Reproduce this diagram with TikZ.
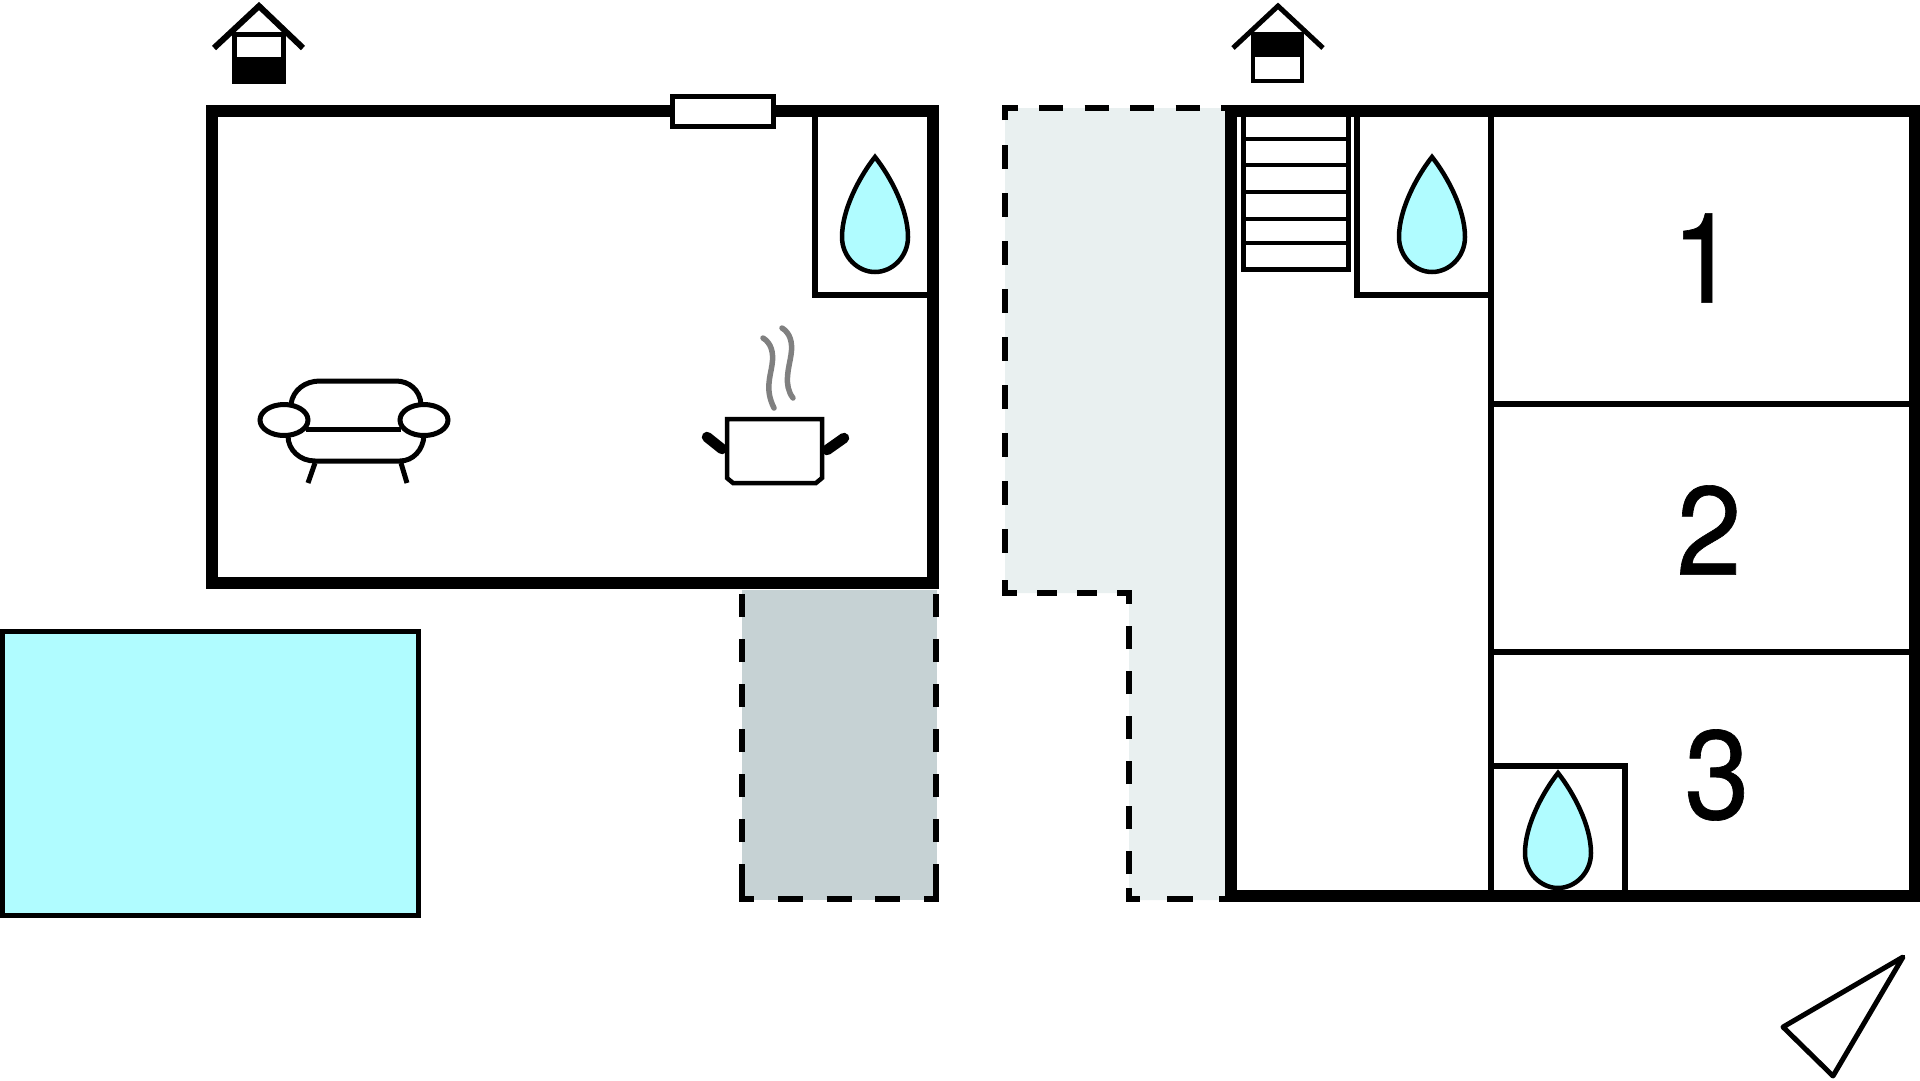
\documentclass[tikz,border=0pt]{standalone}
\usepackage{fontspec}
\newfontfamily\numfont[FakeBold=0.5,FakeStretch=0.93]{TeX Gyre Heros}
\definecolor{poolblue}{HTML}{B0FCFF}
\definecolor{terrace}{HTML}{C6D2D4}
\definecolor{balcony}{HTML}{E9F0F0}
\tikzset{
  wall/.style={draw=black, line width=12pt, line join=miter},
  partition/.style={draw=black, line width=6pt},
  thin wall/.style={draw=black, line width=5pt},
  dashline/.style={draw=black, line width=6pt, dash pattern=on 23pt off 22pt},
  dashcorner/.style={draw=black, line width=6pt, line join=miter},
  roomnum/.style={font=\numfont\fontsize{126}{130}\selectfont, inner sep=0pt},
  pics/drop/.style={code={
    \draw[line width=4.5pt, fill=poolblue, line join=miter]
      (0,3) .. controls (15,22) and (33,55) .. (33,83)
      .. controls (33,103) and (17,118) .. (0,118)
      .. controls (-17,118) and (-33,103) .. (-33,83)
      .. controls (-33,55) and (-15,22) .. (0,3) -- cycle;
  }},
}
\begin{document}
\begin{tikzpicture}[x=1pt, y=-1pt]
  \useasboundingbox (0,0) rectangle (1920,1080);
  % terrace
  \fill[terrace] (742,590) rectangle (937,900);
  \draw[dashline] (742,887) -- (742,590);
  \draw[dashline] (936,887) -- (936,590);
  \draw[dashcorner] (742,887) -- (742,899) -- (754,899);
  \draw[dashcorner] (924,899) -- (936,899) -- (936,887);
  \draw[dashline, dash pattern=on 25pt off 23.5pt] (778,899) -- (905,899);
  % balcony
  \fill[balcony] (1005,108) -- (1228,108) -- (1228,900) -- (1129,900)
    -- (1129,593) -- (1005,593) -- cycle;
  \draw[dashcorner] (1005,120) -- (1005,108) -- (1018,108);
  \draw[dashline, dash pattern=on 24pt off 21.5pt] (1039,108) -- (1231,108);
  \draw[dashline, dash pattern=on 24pt off 24pt] (1005,145) -- (1005,570);
  \draw[dashcorner] (1005,580) -- (1005,593) -- (1017,593);
  \draw[dashline, dash pattern=on 20pt off 20pt] (1037,593) -- (1100,593);
  \draw[dashcorner] (1117,593) -- (1129,593) -- (1129,604);
  \draw[dashline] (1129,874) -- (1129,610);
  \draw[dashcorner] (1129,888) -- (1129,899) -- (1140,899);
  \draw[dashline, dash pattern=on 26pt off 26pt] (1167,899) -- (1231,899);
  % pool
  \path[thin wall, fill=poolblue] (2,631) rectangle (418,915);

  % left building
  \draw[wall] (212,111) rectangle (933,583);
  \draw[partition] (933,295) -- (815,295) -- (815,111);
  \draw[line width=5pt, fill=white] (672,96) rectangle (773,126);
  \pic at (875,154) {drop};

  % right building
  \draw[wall] (1231,111) rectangle (1915,896);
  \draw[partition] (1491,111) -- (1491,896);
  \draw[partition] (1491,404) -- (1915,404);
  \draw[partition] (1491,652) -- (1915,652);
  \draw[partition] (1357,111) -- (1357,295) -- (1491,295);
  \draw[partition] (1491,766) -- (1625,766) -- (1625,896);
  \draw[thin wall] (1243,111) -- (1243,269) -- (1348,269) -- (1348,111);
  \foreach \stepy in {139,165,192,219,243}
    \draw[line width=4.5pt] (1243,\stepy) -- (1348,\stepy);
  \pic at (1432,154) {drop};
  \pic at (1558,770) {drop};
  \node[roomnum] (one) at (1704,258) {1};
  \node[roomnum] (two) at (1709,530) {2};
  \node[roomnum] (three) at (1717,775) {3};

  % floor symbols
  \draw[line width=6pt, line join=miter] (214,48) -- (259,6) -- (303,48);
  \draw[line width=5pt, fill=white] (234.5,34) rectangle (283.5,81);
  \fill (232,57) rectangle (286,83);
  \draw[line width=5pt, line join=miter] (1233,48) -- (1278,6) -- (1323,48);
  \draw[line width=4.5pt, fill=white] (1253,34) rectangle (1302,81);
  \fill (1251,32) rectangle (1304,57);

  % sofa
  \begin{scope}[line width=5pt]
    \draw (291,404) .. controls (293,390) and (305,381) .. (320,381) -- (396,381)
      .. controls (409,381) and (420,390) .. (421,404);
    \draw (306,429) -- (401,429);
    \draw (288,436) .. controls (288,450) and (300,461) .. (315,461) -- (400,461)
      .. controls (413,461) and (423,450) .. (424,436);
    \draw (315,463) -- (308,483);
    \draw (401,463) -- (407,483);
    \draw (284,420) ellipse (24pt and 15.5pt);
    \draw (424,420) ellipse (24pt and 15.5pt);
  \end{scope}

  % pot
  \draw[line width=4.5pt, line join=miter] (727,419) -- (822,419) -- (822,478) -- (816,483)
    -- (733,483) -- (727,478) -- cycle;
  \draw[line width=10.5pt, line cap=round] (707,437) -- (722,449);
  \draw[line width=10.5pt, line cap=round] (844,438) -- (827,450);
  \draw[draw=black!50, line width=5.5pt, line cap=round] (763,338)
    .. controls (771,343) and (774,352) .. (772,365) .. controls (770,378) and (765,390) .. (774,408);
  \draw[draw=black!50, line width=5.5pt, line cap=round] (782,328)
    .. controls (790,333) and (793,342) .. (791,355) .. controls (789,368) and (783,385) .. (793,398);

  % north arrow
  \draw[line width=5pt, line join=round] (1903,957) -- (1783,1027) -- (1833,1076) -- cycle;
\end{tikzpicture}
\end{document}
